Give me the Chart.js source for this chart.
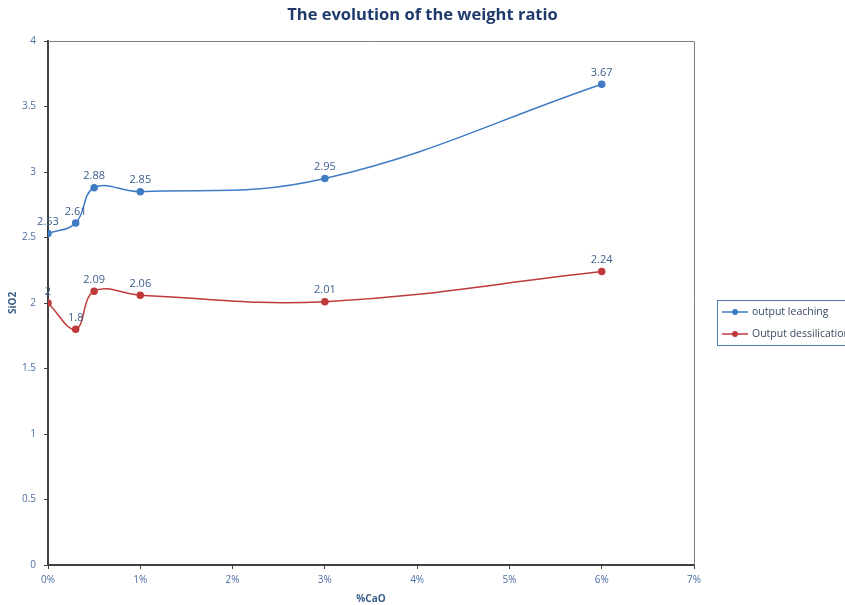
<!DOCTYPE html>
<html>
<head>
<meta charset="utf-8">
<script src="https://cdn.jsdelivr.net/npm/chart.js@4.4.1/dist/chart.umd.min.js"></script>
<style>
  html, body { margin: 0; padding: 0; background: #fff; }
  #wrap { width: 845px; height: 605px; position: relative; }
</style>
</head>
<body>
<div id="wrap"><canvas id="chart"></canvas></div>
<script>
// data
const caoPercent = [0, 0.3, 0.5, 1, 3, 6];
const leachingValues = [2.53, 2.61, 2.88, 2.85, 2.95, 3.67];
const dessilicationValues = [2, 1.8, 2.09, 2.06, 2.01, 2.24];
const seriesNames = ['output leaching', 'Output dessilication'];
const xTicks = [0, 1, 2, 3, 4, 5, 6, 7];
const yTicks = [0, 0.5, 1, 1.5, 2, 2.5, 3, 3.5, 4];
const chartTitle = 'The evolution of the weight ratio';

const labelColor = '#3d5f8c';
const tickColor = '#4c6fa3';
const axisColor = '#404040';
const blue = '#3f7cc4';
const red = '#c0393b';

function toPoints(values) {
    return caoPercent.map((x, i) => ({ x: x, y: values[i] }));
}

// write the value above every point
const valueLabels = {
    id: 'valueLabels',
    afterDatasetsDraw(chart) {
        const ctx = chart.ctx;
        ctx.save();
        ctx.font = '11px "Open Sans", sans-serif';
        ctx.fillStyle = labelColor;
        ctx.textAlign = 'center';
        ctx.textBaseline = 'bottom';
        chart.data.datasets.forEach((ds, d) => {
            chart.getDatasetMeta(d).data.forEach((pt, i) => {
                ctx.fillText(String(ds.data[i].y), pt.x, pt.y - 6);
            });
        });
        ctx.restore();
    }
};

// title centred on the page, frame on top/right of the plot, legend box on the right
const frameAndLegend = {
    id: 'frameAndLegend',
    beforeDatasetsDraw(chart) {
        const a = chart.chartArea;
        const ctx = chart.ctx;
        ctx.save();
        ctx.strokeStyle = '#7f7f7f';
        ctx.lineWidth = 1;
        ctx.beginPath();
        ctx.moveTo(a.left, a.top + 0.5);
        ctx.lineTo(a.right + 0.5, a.top + 0.5);
        ctx.lineTo(a.right + 0.5, a.bottom);
        ctx.stroke();
        ctx.restore();
    },
    afterDraw(chart) {
        const ctx = chart.ctx;
        ctx.save();
        ctx.font = 'bold 16.5px "Open Sans", sans-serif';
        ctx.fillStyle = '#1f3a6b';
        ctx.textAlign = 'center';
        ctx.textBaseline = 'middle';
        ctx.fillText(chartTitle, chart.width / 2, 15);

        ctx.strokeStyle = '#4a78b5';
        ctx.lineWidth = 1;
        ctx.strokeRect(717.5, 300.5, 140, 45);
        ctx.font = '10.5px "Open Sans", sans-serif';
        ctx.textAlign = 'left';
        chart.data.datasets.forEach((ds, i) => {
            const y = 312 + i * 22;
            ctx.strokeStyle = ds.borderColor;
            ctx.lineWidth = 1.5;
            ctx.beginPath();
            ctx.moveTo(722, y);
            ctx.lineTo(748, y);
            ctx.stroke();
            ctx.fillStyle = ds.borderColor;
            ctx.beginPath();
            ctx.arc(735, y, 3, 0, Math.PI * 2);
            ctx.fill();
            ctx.fillStyle = '#3a4a63';
            ctx.fillText(ds.label, 752, y);
        });
        ctx.restore();
    }
};

new Chart(document.getElementById('chart'), {
    type: 'line',
    data: {
        datasets: [
            {
                label: seriesNames[0],
                data: toPoints(leachingValues),
                borderColor: blue,
                backgroundColor: blue,
                borderWidth: 1.5,
                pointRadius: 3,
                tension: 0.4
            },
            {
                label: seriesNames[1],
                data: toPoints(dessilicationValues),
                borderColor: red,
                backgroundColor: red,
                borderWidth: 1.5,
                pointRadius: 3,
                tension: 0.4
            }
        ]
    },
    options: {
        responsive: true,
        maintainAspectRatio: false,
        animation: false,
        layout: { padding: { top: 41, right: 151, bottom: 0, left: 0 } },
        plugins: {
            legend: { display: false },
            tooltip: { enabled: false },
            title: { display: false }
        },
        scales: {
            x: {
                type: 'linear',
                min: 0,
                max: 7,
                afterBuildTicks: (scale) => { scale.ticks = xTicks.map(v => ({ value: v })); },
                afterFit: (scale) => { scale.height = 40; },
                ticks: {
                    color: tickColor,
                    font: { size: 10, family: '"Open Sans", sans-serif' },
                    padding: 5,
                    callback: (v) => v + '%'
                },
                grid: { drawOnChartArea: false, tickLength: 4, color: axisColor },
                border: { color: axisColor, width: 2 },
                title: {
                    display: true,
                    text: '%CaO',
                    color: labelColor,
                    font: { size: 10, weight: 'bold', family: '"Open Sans", sans-serif' },
                    padding: { top: 2, bottom: 0 }
                }
            },
            y: {
                min: 0,
                max: 4,
                afterBuildTicks: (scale) => { scale.ticks = yTicks.map(v => ({ value: v })); },
                afterFit: (scale) => { scale.width = 48; },
                ticks: {
                    color: tickColor,
                    font: { size: 10, family: '"Open Sans", sans-serif' },
                    padding: 8,
                    callback: (v) => String(v)
                },
                grid: { drawOnChartArea: false, tickLength: 4, color: axisColor },
                border: { color: axisColor, width: 2 },
                title: {
                    display: true,
                    text: 'SiO2',
                    color: labelColor,
                    font: { size: 10, weight: 'bold', family: '"Open Sans", sans-serif' },
                    padding: { top: 7, bottom: 0 }
                }
            }
        }
    },
    plugins: [valueLabels, frameAndLegend]
});
</script>
</body>
</html>
